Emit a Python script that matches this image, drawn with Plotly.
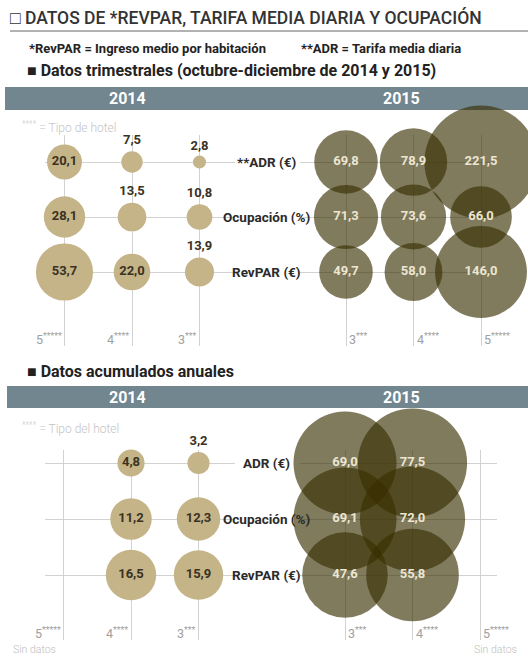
import numpy as np
import plotly.graph_objects as go

W, H = 528, 662

# ---------------- data ----------------
title = "□ DATOS DE *REVPAR, TARIFA MEDIA DIARIA Y OCUPACIÓN"
note_a = "*RevPAR = Ingreso medio por habitación"
note_b = "**ADR = Tarifa media diaria"
sec1_title = "■ Datos trimestrales (octubre-diciembre de 2014 y 2015)"
sec2_title = "■ Datos acumulados anuales"
years = ["2014", "2015"]
legend_q = "<sup>****</sup> = Tipo de hotel"
legend_a = "<sup>****</sup> = Tipo del hotel"
no_data = "Sin datos"

types_2014 = ["5*****", "4****", "3***"]
types_2015 = ["3***", "4****", "5*****"]
type_text = {"5*****": "5<sup>*****</sup>", "4****": "4<sup>****</sup>", "3***": "3<sup>***</sup>"}
metrics_q = ["**ADR (€)", "Ocupación (%)", "RevPAR (€)"]
metrics_a = ["ADR (€)", "Ocupación (%)", "RevPAR (€)"]

# quarterly (Oct-Dec)
q2014_adr = [20.1, 7.5, 2.8]
q2014_ocup = [28.1, 13.5, 10.8]
q2014_revpar = [53.7, 22.0, 13.9]
q2015_adr = [69.8, 78.9, 221.5]
q2015_ocup = [71.3, 73.6, 66.0]
q2015_revpar = [49.7, 58.0, 146.0]
# annual cumulative
a2014_adr = [None, 4.8, 3.2]
a2014_ocup = [None, 11.2, 12.3]
a2014_revpar = [None, 16.5, 15.9]
a2015_adr = [69.0, 77.5, None]
a2015_ocup = [69.1, 72.0, None]
a2015_revpar = [47.6, 55.8, None]

# ---------------- helpers ----------------
def px(x):
    return x / W

def py(y):
    return 1 - y / H

FONT = "Roboto"
TAN = "#c4b488"
DARK = "rgb(55,46,0)"
GRID = "#d2d2d2"
BAND = "#72868f"
TXT_DARK = "#3a3222"

fig = go.Figure()
layout_axes = {}
annotations = []
shapes = []

COLSTEP = 67.5

panels = [
    dict(types=types_2014, metrics=metrics_q, rows=[q2014_adr, q2014_ocup, q2014_revpar],
         xdom=(45, 235), x0=64.5, ydom=(135, 346), y0=162, ystep=55, k=7.8, thr=20, dark=False),
    dict(types=types_2015, metrics=metrics_q, rows=[q2015_adr, q2015_ocup, q2015_revpar],
         xdom=(300, 497), x0=346, ydom=(135, 346), y0=162, ystep=55, k=7.6, thr=20, dark=True),
    dict(types=types_2014, metrics=metrics_a, rows=[a2014_adr, a2014_ocup, a2014_revpar],
         xdom=(45, 235), x0=63.5, ydom=(450, 640), y0=463, ystep=56, k=12.4, thr=4, dark=False),
    dict(types=types_2015, metrics=metrics_a, rows=[a2015_adr, a2015_ocup, a2015_revpar],
         xdom=(300, 497), x0=345, ydom=(450, 640), y0=463, ystep=56, k=12.4, thr=4, dark=True),
]

for i, p in enumerate(panels, start=1):
    xa = "xaxis" if i == 1 else f"xaxis{i}"
    ya = "yaxis" if i == 1 else f"yaxis{i}"
    xr = "x" if i == 1 else f"x{i}"
    yr = "y" if i == 1 else f"y{i}"
    xl, xh = p["xdom"]
    yt, yb = p["ydom"]
    layout_axes[xa] = dict(
        domain=[px(xl), px(xh)], type="category", categoryorder="array",
        categoryarray=p["types"],
        range=[(xl - p["x0"]) / COLSTEP, (xh - p["x0"]) / COLSTEP],
        showgrid=True, gridcolor=GRID, gridwidth=1, zeroline=False,
        showline=False, showticklabels=False, ticks="", anchor=yr, fixedrange=True,
    )
    layout_axes[ya] = dict(
        domain=[py(yb), py(yt)], type="category", categoryorder="array",
        categoryarray=p["metrics"],
        range=[(yb - p["y0"]) / p["ystep"], (yt - p["y0"]) / p["ystep"]],
        showgrid=True, gridcolor=GRID, gridwidth=1, zeroline=False,
        showline=False, showticklabels=False, ticks="", anchor=xr, fixedrange=True,
    )

    xs, ys, vs = [], [], []
    for m, row in zip(p["metrics"], p["rows"]):
        for t, v in zip(p["types"], row):
            if v is not None:
                xs.append(t)
                ys.append(m)
                vs.append(v)
    vs = np.array(vs)
    sizes = p["k"] * np.sqrt(vs)
    texts = [f"{v:.1f}".replace(".", ",") for v in vs]
    pos = ["middle center" if v >= p["thr"] else "top center" for v in vs]
    if p["dark"]:
        marker = dict(size=sizes, color=DARK, opacity=0.63, line=dict(width=0))
        tcol = ["#ece6d2"] * len(vs)
    else:
        marker = dict(size=sizes, color=TAN, opacity=1, line=dict(width=0))
        tcol = [TXT_DARK] * len(vs)
    fig.add_trace(go.Scatter(
        x=xs, y=ys, mode="markers+text", text=texts, textposition=pos,
        textfont=dict(family=FONT, size=13, color=tcol, weight=700),
        marker=marker, cliponaxis=False, hoverinfo="skip", showlegend=False,
        xaxis=xr, yaxis=yr,
    ))

    left = not p["dark"]
    for j, t in enumerate(p["types"]):
        annotations.append(dict(
            x=t, xref=xr, y=0, yref=f"{yr} domain", text=type_text[t],
            showarrow=False, xanchor="right" if left else "left", yanchor="bottom",
            xshift=-1 if left else 1, yshift=-3,
            font=dict(family=FONT, size=12.5, color="#a0a0a0"),
        ))
        if all(row[j] is None for row in p["rows"]):
            annotations.append(dict(
                x=t, xref=xr, y=0, yref=f"{yr} domain", text=no_data,
                showarrow=False, xanchor="right" if left else "left", yanchor="top",
                xshift=-6 if left else -8, yshift=-1,
                font=dict(family=FONT, size=10.5, color="#bdbdbd", weight=300),
            ))

    if not p["dark"]:
        for m in p["metrics"]:
            annotations.append(dict(
                x=px(266), xref="paper", y=m, yref=yr, text=m, showarrow=False,
                xanchor="center", yanchor="middle",
                font=dict(family=FONT, size=13.5, color="#2b2b2b", weight=700),
            ))

annotations += [
    dict(x=px(8), y=py(18), xref="paper", yref="paper", text=title, showarrow=False,
         xanchor="left", yanchor="middle",
         font=dict(family=FONT, size=17.5, color="#333333", weight=500)),
    dict(x=px(27), y=py(49), xref="paper", yref="paper", text=note_a, showarrow=False,
         xanchor="left", yanchor="middle",
         font=dict(family=FONT, size=13, color="#222222", weight=700)),
    dict(x=px(299), y=py(49), xref="paper", yref="paper", text=note_b, showarrow=False,
         xanchor="left", yanchor="middle",
         font=dict(family=FONT, size=13, color="#222222", weight=700)),
    dict(x=px(25), y=py(71), xref="paper", yref="paper", text=sec1_title, showarrow=False,
         xanchor="left", yanchor="middle",
         font=dict(family=FONT, size=16, color="#222222", weight=700)),
    dict(x=px(25), y=py(371), xref="paper", yref="paper", text=sec2_title, showarrow=False,
         xanchor="left", yanchor="middle",
         font=dict(family=FONT, size=16, color="#222222", weight=700)),
    dict(x=px(20), y=py(127), xref="paper", yref="paper", text=legend_q, showarrow=False,
         xanchor="left", yanchor="middle",
         font=dict(family=FONT, size=12, color="#c4c4c4", weight=300)),
    dict(x=px(20), y=py(428), xref="paper", yref="paper", text=legend_a, showarrow=False,
         xanchor="left", yanchor="middle",
         font=dict(family=FONT, size=12, color="#c4c4c4", weight=300)),
]
for band_y in (98.5, 397.5):
    for yr_txt, cx in zip(years, (127, 401)):
        annotations.append(dict(
            x=px(cx), y=py(band_y), xref="paper", yref="paper", text=yr_txt,
            showarrow=False, xanchor="center", yanchor="middle",
            font=dict(family=FONT, size=16, color="white", weight=700)))

shapes += [
    dict(type="line", xref="paper", yref="paper", x0=px(10), x1=1, y0=py(31), y1=py(31),
         line=dict(color="#666666", width=1), layer="below"),
    dict(type="rect", xref="paper", yref="paper", x0=px(5), x1=1, y0=py(110), y1=py(87),
         fillcolor=BAND, line=dict(width=0), layer="below"),
    dict(type="rect", xref="paper", yref="paper", x0=px(7), x1=1, y0=py(408), y1=py(386),
         fillcolor=BAND, line=dict(width=0), layer="below"),
]

fig.update_layout(
    width=W, height=H, margin=dict(l=0, r=0, t=0, b=0),
    paper_bgcolor="white", plot_bgcolor="rgba(0,0,0,0)",
    showlegend=False, annotations=annotations, shapes=shapes,
    font=dict(family=FONT),
    **layout_axes,
)

fig.write_html(
    "out.html",
    config={"displayModeBar": False},
    post_script="document.body.style.margin='0';document.body.style.overflow='hidden';",
)
